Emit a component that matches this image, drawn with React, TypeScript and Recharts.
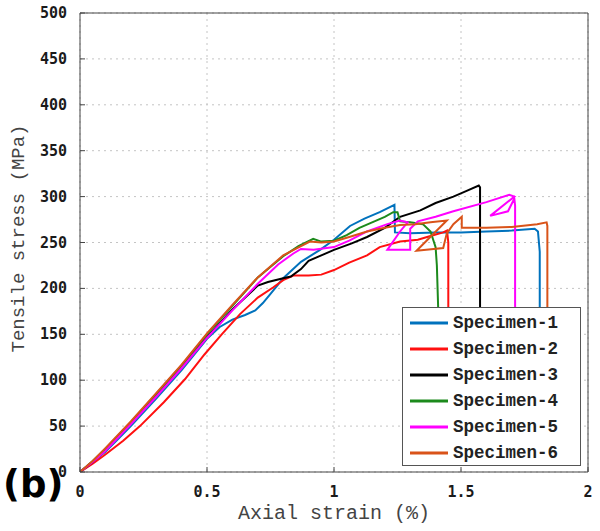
import React from 'react';
import { LineChart, Line, XAxis, YAxis, CartesianGrid, ReferenceLine, Legend } from 'recharts';

const seriesNames = ['Specimen-1', 'Specimen-2', 'Specimen-3', 'Specimen-4', 'Specimen-5', 'Specimen-6'];
const seriesColors = ['#0072BD', '#FF1010', '#000000', '#1C8A1C', '#FF00FF', '#D95319'];

const xTicks = [0, 0.5, 1, 1.5, 2];
const xTickLabels = ['0', '0.5', '1', '1.5', '2'];
const yTicks = [0, 50, 100, 150, 200, 250, 300, 350, 400, 450, 500];

const strain1 = [0, 0.05, 0.1, 0.15, 0.2, 0.3, 0.4, 0.5, 0.55, 0.6, 0.65, 0.69, 0.72, 0.75, 0.8, 0.87, 0.945, 1.0, 1.063, 1.12, 1.18, 1.238, 1.24, 1.3, 1.4, 1.5, 1.6, 1.7, 1.79, 1.803, 1.81, 1.81];
const stress1 = [0, 11, 22, 36, 50, 80, 111, 145, 158, 166, 171, 176, 184, 194, 211, 229, 242, 253, 268, 276, 283, 291, 261, 260, 261, 261, 262, 263, 265, 262, 240, 60];

const strain2 = [0, 0.05, 0.1, 0.17, 0.236, 0.33, 0.413, 0.49, 0.558, 0.63, 0.7, 0.76, 0.8, 0.84, 0.9, 0.95, 1.0, 1.06, 1.13, 1.18, 1.26, 1.33, 1.38, 1.43, 1.445, 1.45, 1.45];
const stress2 = [0, 9, 19, 34, 50, 76, 101, 128, 150, 172, 190, 201, 209, 214, 214, 215, 220, 228, 236, 245, 251, 253, 257, 261, 263, 250, 60];

const strain3 = [0, 0.05, 0.1, 0.2, 0.3, 0.4, 0.5, 0.6, 0.7, 0.74, 0.8, 0.83, 0.87, 0.9, 0.95, 1.0, 1.07, 1.13, 1.2, 1.26, 1.34, 1.4, 1.47, 1.52, 1.57, 1.575, 1.575];
const stress3 = [0, 11, 24, 53, 83, 114, 147, 177, 203, 207, 211, 213, 221, 230, 236, 242, 249, 256, 266, 278, 285, 293, 300, 306, 312, 310, 60];

const strain4 = [0, 0.05, 0.1, 0.2, 0.3, 0.4, 0.5, 0.6, 0.7, 0.8, 0.86, 0.918, 0.95, 1.0, 1.05, 1.1, 1.15, 1.2, 1.233, 1.25, 1.26, 1.3, 1.35, 1.38, 1.4, 1.405, 1.41, 1.41];
const stress4 = [0, 12, 25, 54, 85, 116, 150, 181, 212, 235, 246, 254, 251, 252, 258, 266, 272, 278, 283, 283, 273, 272, 270, 262, 245, 225, 180, 60];

const strain5 = [0, 0.05, 0.1, 0.2, 0.3, 0.4, 0.5, 0.6, 0.7, 0.78, 0.84, 0.87, 0.92, 1.0, 1.06, 1.13, 1.21, 1.26, 1.29, 1.26, 1.21, 1.3, 1.3, 1.33, 1.4, 1.47, 1.6, 1.69, 1.71, 1.615, 1.685, 1.71, 1.713, 1.713];
const stress5 = [0, 11, 23, 52, 82, 113, 146, 176, 205, 226, 238, 243, 242, 245, 252, 262, 270, 274, 272, 262, 242, 242, 265, 273, 278, 284, 294, 302, 300, 279, 284, 298, 290, 60];

const strain6 = [0, 0.05, 0.1, 0.2, 0.3, 0.4, 0.5, 0.6, 0.7, 0.8, 0.87, 0.905, 0.95, 1.0, 1.06, 1.13, 1.2, 1.26, 1.32, 1.38, 1.444, 1.325, 1.43, 1.444, 1.47, 1.503, 1.503, 1.6, 1.7, 1.8, 1.837, 1.84, 1.84];
const stress6 = [0, 12, 26, 55, 86, 117, 151, 182, 212, 236, 246, 251, 250, 251, 256, 262, 266, 269, 270, 272, 274, 241, 244, 260, 270, 278, 266, 266, 267, 270, 272, 268, 60];

const strains = [strain1, strain2, strain3, strain4, strain5, strain6];
const stresses = [stress1, stress2, stress3, stress4, stress5, stress6];

const seriesData = strains.map((xs, i) => xs.map((x, j) => ({ x, y: stresses[i][j] })));

const tickFont = { fontFamily: 'DejaVu Sans Mono', fontWeight: 'bold' as const, fontSize: 15, fill: '#1a1a1a' };
const monoFont = 'Liberation Mono';

const XTick = (props: any) => {
  const { x, y, payload } = props;
  return (
    <g>
      <line x1={x} x2={x} y1={y} y2={y - 5} stroke="#444" strokeWidth={1} />
      <text x={x} y={y + 25} textAnchor="middle" {...tickFont}>
        {xTickLabels[xTicks.indexOf(payload.value)] ?? String(payload.value)}
      </text>
    </g>
  );
};

const YTick = (props: any) => {
  const { x, y, payload } = props;
  return (
    <g>
      <line x1={x} x2={x + 5} y1={y} y2={y} stroke="#444" strokeWidth={1} />
      <text x={x - 13} y={y + 5} textAnchor="end" {...tickFont}>
        {String(payload.value)}
      </text>
    </g>
  );
};

const LegendBox = () => (
  <div
    style={{
      background: '#fff',
      border: '1px solid #555',
      width: 179,
      height: 159,
      boxSizing: 'border-box',
      paddingTop: 2,
    }}
  >
    {seriesNames.map((name, i) => (
      <div key={name} style={{ height: 26, display: 'flex', alignItems: 'center' }}>
        <svg width={50} height={26} style={{ flex: 'none' }}>
          <line x1={7} x2={45} y1={13} y2={13} stroke={seriesColors[i]} strokeWidth={3} />
        </svg>
        <span
          style={{
            fontFamily: monoFont,
            fontWeight: 'bold',
            fontSize: 17.5,
            color: '#222',
            whiteSpace: 'nowrap',
          }}
        >
          {name}
        </span>
      </div>
    ))}
  </div>
);

const YLabel = (props: any) => {
  const vb = props.viewBox || { x: 0, y: 13, width: 80, height: 459 };
  const cx = vb.x + 19;
  const cy = vb.y + vb.height / 2 - 4;
  return (
    <text
      x={cx}
      y={cy}
      transform={`rotate(-90, ${cx}, ${cy})`}
      textAnchor="middle"
      dominantBaseline="central"
      fontFamily={monoFont}
      fontSize={19}
      fill="#444"
    >
      Tensile stress (MPa)
    </text>
  );
};

const XLabel = (props: any) => {
  const vb = props.viewBox || { x: 80, y: 472, width: 508, height: 59 };
  const cx = vb.x + vb.width / 2;
  const cy = vb.y + 47;
  return (
    <text x={cx} y={cy} textAnchor="middle" fontFamily={monoFont} fontSize={20} fill="#444">
      Axial strain (%)
    </text>
  );
};

export default function App() {
  return (
    <div style={{ position: 'absolute', left: 0, top: 0, width: 600, height: 531, background: '#fff' }}>
      <LineChart width={600} height={531} margin={{ top: 13, right: 12, bottom: 0, left: 0 }}>
        <CartesianGrid stroke="#c4c4c4" strokeDasharray="2 4" />
        <XAxis
          dataKey="x"
          type="number"
          domain={[0, 2]}
          ticks={xTicks}
          height={59}
          stroke="#444"
          tickSize={0}
          tickMargin={0}
          tickLine={false}
          tick={<XTick />}
          allowDataOverflow
          label={{ content: <XLabel /> }}
        />
        <YAxis
          type="number"
          domain={[0, 500]}
          ticks={yTicks}
          width={80}
          stroke="#444"
          tickSize={0}
          tickMargin={0}
          tickLine={false}
          tick={<YTick />}
          allowDataOverflow
          label={{ content: <YLabel /> }}
        />
        <ReferenceLine y={500} stroke="#444" strokeWidth={1} />
        <ReferenceLine x={2} stroke="#444" strokeWidth={1} />
        {seriesData.map((d, i) => (
          <Line
            key={seriesNames[i]}
            data={d}
            dataKey="y"
            name={seriesNames[i]}
            type="linear"
            stroke={seriesColors[i]}
            strokeWidth={2}
            dot={false}
            activeDot={false}
            isAnimationActive={false}
          />
        ))}
        <Legend
          layout="vertical"
          align="center"
          verticalAlign="middle"
          content={() => <LegendBox />}
          wrapperStyle={{ left: 402, top: 307, width: 179, height: 159 }}
        />
      </LineChart>
      <div
        style={{
          position: 'absolute',
          left: 3,
          top: 466,
          fontFamily: 'DejaVu Sans',
          fontWeight: 'bold',
          fontSize: 37,
          color: '#000',
          lineHeight: 1,
        }}
      >
        (b)
      </div>
    </div>
  );
}
